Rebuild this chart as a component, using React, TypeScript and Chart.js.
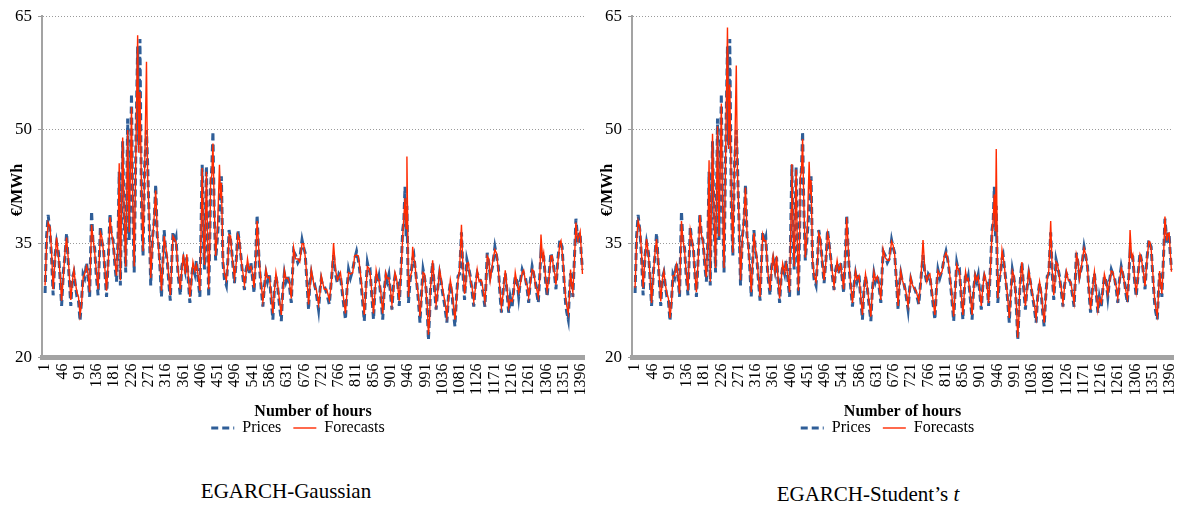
import React, { useEffect, useRef } from "react";
import { Chart, registerables } from "chart.js";

Chart.register(...registerables);

// ---- data (hour index, €/MWh) ----
const hours = [
  1, 5, 9, 14, 18, 22, 27, 31, 36, 40,
  44, 49, 53, 57, 62, 68, 72, 76, 80, 84,
  88, 92, 96, 100, 104, 109, 113, 117, 122, 126,
  130, 134, 139, 145, 149, 153, 157, 161, 166, 170,
  174, 178, 183, 187, 191, 194, 197, 203, 207, 211,
  216, 220, 223, 226, 229, 233, 238, 242, 245, 248,
  252, 256, 260, 265, 268, 272, 276, 281, 285, 289,
  293, 297, 301, 304, 308, 311, 315, 319, 323, 327,
  331, 334, 338, 342, 347, 353, 357, 361, 366, 370,
  374, 378, 382, 386, 391, 395, 400, 404, 408, 410,
  413, 416, 419, 421, 424, 427, 430, 432, 435, 438,
  441, 445, 450, 455, 458, 460, 464, 468, 473, 477,
  480, 484, 487, 491, 494, 499, 503, 507, 511, 515,
  520, 524, 528, 532, 537, 541, 545, 549, 553, 556,
  559, 563, 568, 572, 576, 580, 585, 589, 594, 598,
  602, 606, 611, 616, 620, 624, 628, 633, 637, 642,
  645, 648, 653, 659, 664, 670, 674, 678, 682, 687,
  690, 694, 698, 702, 707, 713, 717, 720, 724, 728,
  734, 741, 746, 752, 757, 762, 766, 770, 776, 783,
  787, 791, 796, 802, 807, 812, 816, 819, 825, 832,
  836, 840, 844, 847, 851, 856, 860, 863, 867, 870,
  875, 880, 884, 888, 892, 896, 900, 904, 908, 912,
  916, 919, 923, 928, 932, 935, 938, 941, 943, 947,
  951, 955, 958, 961, 964, 967, 972, 977, 981, 985,
  989, 993, 996, 999, 1002, 1004, 1007, 1010, 1014, 1019,
  1023, 1028, 1032, 1036, 1041, 1047, 1051, 1056, 1061, 1064,
  1068, 1072, 1076, 1080, 1085, 1089, 1093, 1096, 1099, 1103,
  1108, 1112, 1117, 1121, 1126, 1131, 1137, 1141, 1146, 1149,
  1152, 1156, 1160, 1166, 1172, 1176, 1181, 1185, 1189, 1194,
  1199, 1203, 1208, 1212, 1217, 1221, 1225, 1230, 1234, 1238,
  1243, 1247, 1251, 1256, 1260, 1264, 1269, 1273, 1278, 1281,
  1285, 1289, 1292, 1296, 1299, 1304, 1308, 1313, 1318, 1321,
  1325, 1328, 1331, 1336, 1341, 1344, 1347, 1351, 1356, 1359,
  1363, 1366, 1369, 1372, 1375, 1379, 1383, 1386, 1388, 1391,
  1394, 1397, 1400,
];

const prices = [
  28.5, 36, 38.8, 36.5, 33, 28.2, 33.5, 35.2, 33.8, 30.5,
  26.8, 31.5, 33.5, 36.4, 32, 26.8, 30.5, 31.2, 29.5, 28,
  27.5, 24.8, 27.5, 31, 30.5, 32.5, 30.5, 28, 39.3, 35,
  34.5, 31, 28.2, 37.3, 35.2, 34.5, 31, 28, 33.5, 39,
  36, 35.5, 32, 30, 36, 44.5, 29.5, 48.5, 38, 31.2,
  51.5, 35.5, 45, 54.8, 40, 31.2, 50, 61, 48, 62,
  40, 33.4, 45, 50, 45.6, 38, 29.5, 36, 38, 42.8,
  36, 34.7, 31, 28, 33, 36.8, 34, 32.8, 30, 27.5,
  33, 36.6, 35, 35.8, 31, 28.2, 32, 33, 31.5, 33.2,
  30, 27.2, 30.5, 32, 31, 32.8, 30, 28, 40, 45.4,
  36, 31.6, 40, 45.2, 35, 28, 36, 42.6, 45, 49.8,
  40, 32.8, 36, 39.8, 42, 43.9, 32.5, 30.3, 29.5, 33,
  36.8, 35.5, 34, 31.5, 29.8, 33, 36.8, 35, 33.3, 31,
  28.9, 31.5, 32.5, 31, 32.5, 30.5, 28.5, 33, 38.8, 35,
  32, 29.5, 26.7, 29.5, 31.1, 30, 31.1, 28, 25, 29,
  30.7, 29.5, 27, 24.8, 29, 31.1, 30, 30.9, 29.5, 27.2,
  31, 34, 33.5, 32.5, 33, 35.5, 34.5, 33.8, 30.5, 26.3,
  29.5, 31.1, 30, 29.8, 28.5, 26.3, 29, 30.3, 29.5, 29.4,
  28.5, 27, 30, 33.5, 31, 29.8, 31, 30.7, 28, 25,
  29, 31.6, 30.5, 31.6, 33, 34, 33, 32, 29, 24.8,
  29, 32.5, 31.5, 31.6, 28.5, 25, 29, 31.1, 30, 30.7,
  28, 25, 29, 30.7, 30, 30.9, 28.5, 26.3, 29.5, 30.7,
  30, 29.8, 26.8, 32, 36.8, 38, 42.5, 36, 40, 27.2,
  30, 31.6, 33, 33.5, 32, 30.7, 28, 24.6, 28.5, 31.6,
  30.5, 29, 26, 22.3, 25.5, 28.5, 31, 32.5, 29.5, 26.3,
  29, 31.1, 30, 28.5, 27, 24.6, 28, 29.8, 28, 26,
  24.1, 28, 30.7, 31, 36.5, 31, 27.6, 30, 32.9, 32,
  30.7, 29, 26.7, 29.5, 31.1, 30.5, 29.8, 28.5, 26.7, 30,
  33.8, 32.5, 30.7, 32, 34.6, 33.5, 32, 28.5, 25.9, 29,
  31.1, 29, 25.9, 28, 26.7, 29, 30.7, 30, 28, 30,
  31.6, 31, 30.7, 29, 27.2, 30, 32, 31, 29.8, 28.5,
  27.2, 31, 34, 33.5, 33.3, 30, 28, 31, 33.8, 33,
  32, 30.5, 29, 33, 35.5, 35, 34.6, 31, 27.2, 26,
  25, 28.5, 31.1, 30, 28, 33, 38.3, 36.5, 35.1, 36.5,
  36.2, 33.5, 31.6,
];

const forecastsGaussian = [
  29.5, 35, 37.8, 37.2, 33.8, 29, 33, 35.8, 33.2, 31,
  27.5, 31, 34, 35.8, 32.6, 27.6, 30, 31.6, 29.8, 28.6,
  28, 25.6, 27, 30.5, 31, 32, 31, 28.6, 37.5, 35.6,
  34, 31.6, 29, 36.5, 35.8, 34, 31.5, 28.8, 33, 38.5,
  36.5, 35, 32.6, 30.8, 35.5, 45.6, 30.2, 49, 38.8, 32,
  50, 36.5, 44, 53, 41, 32, 49, 62.5, 47, 55,
  42, 34, 44, 59, 44, 38.6, 30.5, 35.5, 38.6, 42,
  36.6, 34, 31.6, 28.8, 32.6, 36, 34.6, 33.2, 30.6, 28.2,
  32.5, 36, 35.6, 35.2, 31.6, 29, 31.6, 33.6, 31, 33.6,
  30.6, 28, 30, 32.6, 31.4, 32.2, 30.6, 28.8, 39, 45,
  37, 32.2, 39, 44.5, 36, 29, 35, 43.5, 44, 48.2,
  41, 33.4, 37, 45.4, 41, 43, 33, 31, 30.2, 32.6,
  36.2, 36, 33.6, 32, 30.5, 32.6, 36.2, 35.6, 33, 31.6,
  29.6, 31, 33, 31.6, 32, 31, 29.2, 32.5, 38, 35.6,
  32.6, 30, 27.4, 29, 31.6, 30.5, 30.6, 28.6, 25.8, 28.6,
  31.2, 29.8, 27.6, 25.6, 28.6, 31.5, 30.4, 30.5, 30, 27.8,
  30.5, 34.5, 33, 33, 32.6, 35, 35, 33.4, 31, 27,
  29, 31.6, 30.4, 29.4, 29, 27, 28.6, 30.8, 29.8, 29,
  29, 27.6, 29.6, 35.1, 31.6, 30.2, 30.6, 31.2, 28.6, 25.8,
  28.6, 31.2, 31, 31.2, 33.4, 33.5, 33.4, 32.4, 29.6, 25.6,
  28.6, 32, 31.8, 31.2, 29, 25.8, 28.6, 31.5, 30.4, 30.2,
  28.6, 25.8, 28.6, 31.2, 30.4, 30.5, 29, 27, 29, 31.2,
  30.4, 29.4, 27.5, 31.5, 36, 38.5, 41, 37, 46.5, 28,
  30.6, 31.2, 34.6, 33, 32.5, 30.2, 28.6, 25.4, 28, 31.2,
  31, 28.6, 26.8, 23, 25, 29, 30.6, 32.8, 30, 27,
  28.6, 31.6, 30.4, 29, 27.6, 25.4, 27.6, 30.2, 28.6, 26.8,
  25, 27.5, 30.2, 31.6, 37.5, 31.6, 28.4, 29.6, 32.4, 32.5,
  30.2, 29.5, 27.4, 29, 31.6, 30, 30.2, 29, 27.4, 29.6,
  33.4, 33, 30.2, 32.5, 34.2, 33.8, 31.6, 29, 26.6, 28.6,
  31.5, 29.5, 26.6, 27.6, 27.4, 28.6, 31.2, 29.6, 28.6, 29.6,
  31.2, 31.5, 30.2, 29.5, 28, 29.6, 31.6, 31.4, 29.4, 29,
  28, 30.6, 36.2, 33, 33.8, 30.5, 28.8, 30.6, 33.4, 33.4,
  31.6, 31, 29.6, 32.6, 35, 35.4, 34, 31.6, 28, 26.8,
  25.8, 28, 31.6, 29.6, 28.6, 32.6, 37.8, 36, 35.6, 36,
  36.6, 34, 31,
];

const forecastsStudent = [
  29.2, 35.4, 38, 37, 33.6, 29.2, 33.2, 35.6, 33.4, 30.8,
  27.2, 31.2, 33.8, 35.6, 32.4, 27.4, 30.2, 31.4, 29.6, 28.4,
  27.8, 25.2, 27.2, 30.8, 30.8, 32.2, 30.8, 28.4, 38, 35.4,
  34.2, 31.4, 28.8, 36.8, 35.6, 34.2, 31.2, 28.6, 33.2, 38.8,
  36.2, 35.2, 32.4, 30.6, 35.8, 46, 30, 49.5, 38.5, 31.8,
  50.5, 36, 44.5, 53.5, 40.5, 31.8, 49.5, 63.5, 47.5, 56,
  41.5, 33.8, 44.5, 58.5, 44.5, 38.4, 30.2, 35.8, 38.4, 42.4,
  36.4, 34.2, 31.4, 28.6, 32.8, 36.4, 34.4, 33, 30.4, 28,
  32.8, 36.2, 35.4, 35.4, 31.4, 28.8, 31.8, 33.4, 31.2, 33.4,
  30.4, 27.8, 30.2, 32.4, 31.2, 32.4, 30.4, 28.6, 39.5, 45.5,
  36.6, 32, 39.5, 44.8, 35.6, 28.8, 35.4, 43.8, 44.5, 48.8,
  40.6, 33.2, 36.6, 45.8, 41.5, 43.4, 32.8, 30.8, 30, 32.8,
  36.4, 35.8, 33.8, 31.8, 30.2, 32.8, 36.4, 35.4, 33.2, 31.4,
  29.4, 31.2, 32.8, 31.4, 32.2, 30.8, 29, 32.8, 38.5, 35.4,
  32.4, 29.8, 27.2, 29.2, 31.4, 30.3, 30.8, 28.4, 25.6, 28.8,
  31, 29.6, 27.4, 25.4, 28.8, 31.3, 30.2, 30.7, 29.8, 27.6,
  30.8, 34.3, 33.2, 32.8, 32.8, 35.3, 34.8, 33.6, 30.8, 26.8,
  29.2, 31.4, 30.2, 29.6, 28.8, 26.8, 28.8, 30.6, 29.6, 29.2,
  28.8, 27.4, 29.8, 35.5, 31.4, 30, 30.8, 31, 28.4, 25.6,
  28.8, 31.4, 30.8, 31.4, 33.2, 33.8, 33.2, 32.2, 29.4, 25.4,
  28.8, 32.2, 31.6, 31.4, 28.8, 25.6, 28.8, 31.3, 30.2, 30.4,
  28.4, 25.6, 28.8, 31, 30.2, 30.7, 28.8, 26.8, 29.2, 31,
  30.2, 29.6, 27.2, 31.8, 36.4, 38.2, 41.5, 36.6, 47.5, 27.8,
  30.4, 31.4, 34.2, 33.2, 32.3, 30.4, 28.4, 25.2, 28.2, 31.4,
  30.8, 28.8, 26.5, 22.6, 25.2, 28.8, 30.8, 32.6, 29.8, 26.8,
  28.8, 31.4, 30.2, 28.8, 27.4, 25.2, 27.8, 30, 28.4, 26.5,
  24.6, 27.8, 30.4, 31.4, 38, 31.4, 28.2, 29.8, 32.6, 32.3,
  30.4, 29.3, 27.2, 29.2, 31.4, 30.2, 30, 28.8, 27.2, 29.8,
  33.6, 32.8, 30.4, 32.3, 34.4, 33.6, 31.8, 28.8, 26.3, 28.8,
  31.3, 29.3, 26.3, 27.8, 27.2, 28.8, 31, 29.8, 28.4, 29.8,
  31.4, 31.3, 30.4, 29.3, 27.8, 29.8, 31.8, 31.2, 29.6, 28.8,
  27.8, 30.8, 36.8, 33.2, 33.6, 30.3, 28.6, 30.8, 33.6, 33.2,
  31.8, 30.8, 29.4, 32.8, 35.3, 35.2, 34.3, 31.4, 27.8, 26.5,
  25.5, 28.2, 31.4, 29.8, 28.4, 32.8, 38.6, 36.3, 35.4, 36.3,
  36.4, 33.8, 31.3,
];

const xTickLabels = [
  1, 46, 91, 136, 181, 226, 271, 316, 361, 406, 451, 496, 541, 586, 631, 676,
  721, 766, 811, 856, 901, 946, 991, 1036, 1081, 1126, 1171, 1216, 1261, 1306,
  1351, 1396,
];
const yTickValues = [20, 35, 50, 65];

const PRICE_COLOR = "#2f5e98";
const FORECAST_COLOR = "#ff2a00";
const SERIF = '"Liberation Serif", "Times New Roman", serif';
const CANVAS_H = 446;

const yTitlePlugin = {
  id: "yTitle",
  afterDraw(chart: any, _args: any, opts: any) {
    const ctx = chart.ctx;
    ctx.save();
    ctx.translate(opts.x, opts.y);
    ctx.rotate(-Math.PI / 2);
    ctx.font = `bold 16px ${SERIF}`;
    ctx.fillStyle = "#000";
    ctx.textAlign = "center";
    ctx.textBaseline = "middle";
    ctx.fillText(opts.text, 0, 0);
    ctx.restore();
  },
};

// nudges the bottom legend horizontally (the reference legend sits a little right of centre)
const legendShiftPlugin = {
  id: "legendShift",
  afterLayout(chart: any, _args: any, opts: any) {
    const lg = chart.legend;
    if (!lg) return;
    lg.left += opts.dx;
    lg.right += opts.dx;
  },
};

function Panel({ forecasts, padRight, padTop, width }: { forecasts: number[]; padRight: number; padTop: number; width: number }) {
  const ref = useRef<HTMLCanvasElement | null>(null);
  useEffect(() => {
    if (!ref.current) return;
    const priceData = hours.map((h, i) => ({ x: h, y: prices[i] }));
    const fcData = hours.map((h, i) => ({ x: h, y: forecasts[i] }));
    const chart = new Chart(ref.current, {
      type: "line",
      data: {
        datasets: [
          {
            label: "Prices",
            data: priceData,
            borderColor: PRICE_COLOR,
            borderWidth: 3,
            borderDash: [7, 4],
            pointRadius: 0,
            tension: 0,
            order: 2,
          },
          {
            label: "Forecasts",
            data: fcData,
            borderColor: FORECAST_COLOR,
            borderWidth: 1.4,
            pointRadius: 0,
            tension: 0,
            order: 1,
          },
        ],
      },
      options: {
        animation: false,
        responsive: false,
        maintainAspectRatio: false,
        layout: { padding: { top: padTop, right: padRight, left: 0, bottom: 0 } },
        plugins: {
          tooltip: { enabled: false },
          yTitle: { text: "€/MWh", x: 18, y: 190 },
          legendShift: { dx: 6 },
          legend: {
            position: "bottom",
            labels: {
              usePointStyle: true,
              pointStyleWidth: 23,
              boxHeight: 10,
              padding: 12,
              color: "#000",
              font: { family: SERIF, size: 16 },
              generateLabels: () => [
                {
                  text: "Prices",
                  fillStyle: "rgba(0,0,0,0)",
                  strokeStyle: PRICE_COLOR,
                  lineWidth: 3,
                  lineDash: [7, 4],
                  pointStyle: "line",
                  hidden: false,
                  datasetIndex: 0,
                },
                {
                  text: "Forecasts",
                  fillStyle: "rgba(0,0,0,0)",
                  strokeStyle: FORECAST_COLOR,
                  lineWidth: 1.4,
                  lineDash: [],
                  pointStyle: "line",
                  hidden: false,
                  datasetIndex: 1,
                },
              ],
            },
          },
        } as any,
        scales: {
          x: {
            type: "linear",
            min: -7,
            max: 1404,
            afterBuildTicks: (scale: any) => {
              scale.ticks = xTickLabels.map((v) => ({ value: v }));
            },
            afterFit: (scale: any) => {
              scale.height = 50.5;
              scale.paddingLeft = 0;
              scale.paddingRight = 0;
            },
            ticks: {
              autoSkip: false,
              maxRotation: 90,
              minRotation: 90,
              padding: 6,
              color: "#000",
              font: { family: SERIF, size: 16 },
              callback: (v: any) => String(v),
            },
            grid: { display: false, drawTicks: false },
            border: { display: true, color: "#a3a3a3", width: 5 },
            title: {
              display: true,
              text: "Number of hours",
              color: "#000",
              font: { family: SERIF, size: 16, weight: "bold", lineHeight: 1 },
              padding: { top: 0, bottom: -11.5 },
            },
          },
          y: {
            min: 20,
            max: 65,
            afterBuildTicks: (scale: any) => {
              scale.ticks = yTickValues.map((v) => ({ value: v }));
            },
            afterFit: (scale: any) => {
              scale.width = 42;
            },
            ticks: {
              padding: 6,
              color: "#000",
              font: { family: SERIF, size: 17 },
            },
            grid: {
              color: "#9a9a9a",
              lineWidth: 1,
              tickLength: 4,
              tickColor: "#9a9a9a",
            },
            border: { display: true, color: "#a3a3a3", width: 2, dash: [1, 2] },
          },
        },
      },
      plugins: [yTitlePlugin, legendShiftPlugin],
    });
    return () => chart.destroy();
  }, [forecasts, padRight, padTop, width]);
  return <canvas ref={ref} width={width} height={CANVAS_H} style={{ display: "block", width, height: CANVAS_H }} />;
}

export default function App() {
  const captionStyle: React.CSSProperties = {
    position: "absolute",
    fontFamily: SERIF,
    fontSize: 21,
    color: "#000",
    textAlign: "center",
    whiteSpace: "nowrap",
  };
  return (
    <div style={{ position: "absolute", left: 0, top: 0, width: 1182, height: 506, background: "#fff", overflow: "hidden" }}>
      <div style={{ position: "absolute", left: 0, top: 0, width: 590, height: CANVAS_H }}>
        <Panel forecasts={forecastsGaussian} padRight={6} padTop={16} width={590} />
      </div>
      <div style={{ position: "absolute", left: 590, top: 0, width: 592, height: CANVAS_H }}>
        <Panel forecasts={forecastsStudent} padRight={9} padTop={13} width={592} />
      </div>
      <div style={{ ...captionStyle, left: 186, width: 200, top: 479 }}>EGARCH-Gaussian</div>
      <div style={{ ...captionStyle, left: 768, width: 200, top: 482 }}>
        EGARCH-Student’s <i>t</i>
      </div>
    </div>
  );
}
